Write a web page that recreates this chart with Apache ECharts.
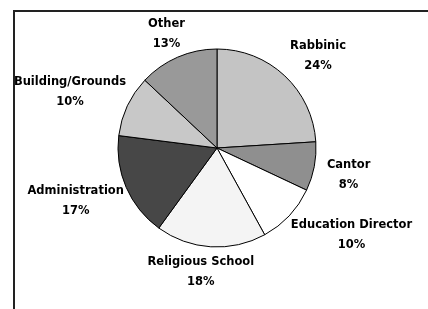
<!DOCTYPE html>
<html>
<head>
<meta charset="utf-8">
<script src="https://cdn.jsdelivr.net/npm/echarts@6/dist/echarts.min.js"></script>
<style>
  html, body { margin: 0; padding: 0; background: #fff; }
  #chart { width: 428px; height: 309px; }
</style>
</head>
<body>
<div id="chart"></div>
<script>
const categories = ['Rabbinic', 'Cantor', 'Education Director', 'Religious School', 'Administration', 'Building/Grounds', 'Other']
const values = [24, 8, 10, 18, 17, 10, 13]
const sliceColors = ['#c4c4c4', '#8f8f8f', '#ffffff', '#f4f4f4', '#474747', '#c8c8c8', '#999999']

// put each label just outside its slice, the way the old spreadsheet did
function placeLabel(params) {
  const pts = params.labelLinePoints
  if (!pts) return {}
  let dx = pts[1][0] - pts[0][0]
  let dy = pts[1][1] - pts[0][1]
  let len = Math.sqrt(dx * dx + dy * dy) || 1
  let ux = dx / len, uy = dy / len
  let w = params.labelRect.width, h = params.labelRect.height
  return {
    x: pts[1][0] + 4 + Math.sign(ux) * Math.sqrt(Math.abs(ux)) * w / 2,
    y: pts[1][1] + Math.sign(uy) * Math.sqrt(Math.abs(uy)) * h / 2,
    align: 'center',
    verticalAlign: 'middle'
  }
}

let chart = echarts.init(document.getElementById('chart'))
let option = {
  animation: false,
  backgroundColor: '#fff',
  graphic: [{
    type: 'rect',
    shape: { x: 14, y: 11, width: 600, height: 600 },
    style: { fill: 'none', stroke: '#222', lineWidth: 2 },
    silent: true
  }],
  series: [{
    type: 'pie',
    center: [217, 148],
    radius: 99,
    startAngle: 90,
    clockwise: true,
    avoidLabelOverlap: false,
    data: categories.map((name, i) => ({
      name: name,
      value: values[i],
      itemStyle: { color: sliceColors[i] }
    })),
    itemStyle: { borderColor: '#000', borderWidth: 1 },
    label: {
      position: 'outside',
      formatter: p => '{a|' + p.name + '}\n{a|' + Math.round(p.percent) + '%}',
      rich: {
        a: {
          align: 'center',
          fontFamily: 'DejaVu Sans',
          fontWeight: 'bold',
          fontSize: 11.5,
          lineHeight: 20,
          color: '#000'
        }
      }
    },
    labelLine: { show: true, length: 9, length2: 0, lineStyle: { opacity: 0 } },
    labelLayout: placeLabel
  }]
}
chart.setOption(option)
</script>
</body>
</html>
